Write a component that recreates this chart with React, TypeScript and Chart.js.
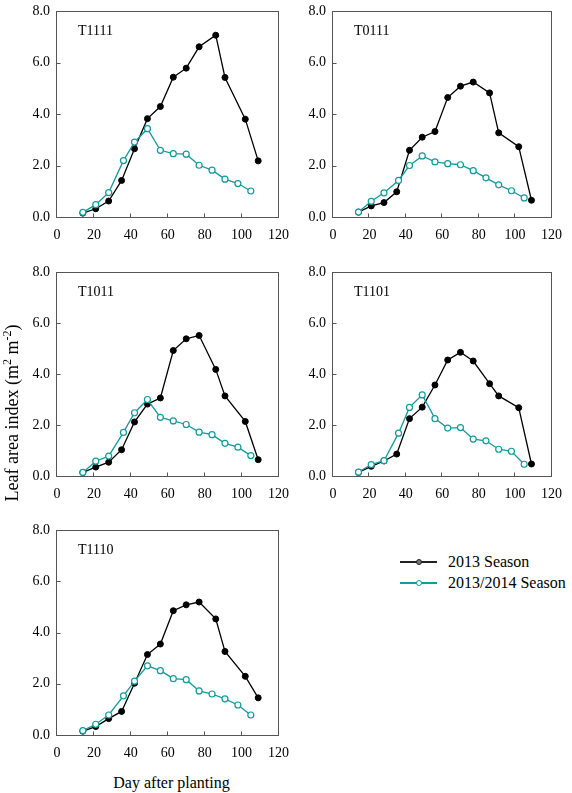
import React, { useEffect, useRef } from 'react';
import { Chart, registerables } from 'chart.js';

Chart.register(...registerables);

// ---------- data ----------
const days2013 = [14, 21, 28, 35, 42, 49, 56, 63, 70, 77, 86, 91, 102, 109];
const days2014 = [14, 21, 28, 36, 42, 49, 56, 63, 70, 77, 84, 91, 98, 105];

const xTicks = [0, 20, 40, 60, 80, 100, 120];
const yTicks = [0, 2, 4, 6, 8];

const panelNames = ['T1111', 'T0111', 'T1011', 'T1101', 'T1110'];

const t1111_2013 = [0.15, 0.32, 0.62, 1.42, 2.65, 3.82, 4.29, 5.43, 5.78, 6.61, 7.06, 5.42, 3.8, 2.18];
const t1111_2014 = [0.18, 0.48, 0.95, 2.19, 2.91, 3.43, 2.59, 2.46, 2.44, 2.01, 1.82, 1.47, 1.3, 1.01];
const t0111_2013 = [0.19, 0.43, 0.56, 0.98, 2.59, 3.1, 3.32, 4.64, 5.08, 5.24, 4.82, 3.27, 2.73, 0.65];
const t0111_2014 = [0.19, 0.61, 0.94, 1.42, 2.0, 2.37, 2.14, 2.07, 2.03, 1.8, 1.52, 1.25, 1.02, 0.74];
const t1011_2013 = [0.14, 0.35, 0.54, 1.03, 2.12, 2.82, 3.06, 4.92, 5.38, 5.51, 4.18, 3.14, 2.14, 0.64];
const t1011_2014 = [0.14, 0.58, 0.78, 1.71, 2.48, 3.0, 2.3, 2.16, 2.02, 1.72, 1.62, 1.28, 1.13, 0.8];
const t1101_2013 = [0.14, 0.38, 0.59, 0.86, 2.25, 2.7, 3.57, 4.55, 4.85, 4.51, 3.62, 3.14, 2.68, 0.47];
const t1101_2014 = [0.15, 0.45, 0.6, 1.68, 2.69, 3.18, 2.25, 1.88, 1.9, 1.45, 1.38, 1.05, 0.97, 0.46];
const t1110_2013 = [0.15, 0.33, 0.64, 0.92, 2.02, 3.14, 3.55, 4.85, 5.08, 5.19, 4.53, 3.26, 2.29, 1.45];
const t1110_2014 = [0.17, 0.42, 0.78, 1.53, 2.1, 2.7, 2.51, 2.2, 2.16, 1.72, 1.6, 1.41, 1.17, 0.78];

const seriesLabels = ['2013 Season', '2013/2014 Season'];

// ---------- style ----------
const FONT = '"Liberation Serif", "Times New Roman", Times, serif';
const TEAL = '#139a9a';
const BOX = '#555555';

type Rect = { left: number; top: number; right: number; bottom: number };

const panels: { name: string; a: number[]; b: number[]; rect: Rect; padRight: number }[] = [
  { name: panelNames[0], a: t1111_2013, b: t1111_2014, rect: { left: 57, top: 7, right: 286, bottom: 217 }, padRight: 14 },
  { name: panelNames[1], a: t0111_2013, b: t0111_2014, rect: { left: 333, top: 7, right: 561, bottom: 217 }, padRight: 12 },
  { name: panelNames[2], a: t1011_2013, b: t1011_2014, rect: { left: 57, top: 268, right: 286, bottom: 476 }, padRight: 14 },
  { name: panelNames[3], a: t1101_2013, b: t1101_2014, rect: { left: 333, top: 268, right: 561, bottom: 476 }, padRight: 12 },
  { name: panelNames[4], a: t1110_2013, b: t1110_2014, rect: { left: 57, top: 526, right: 286, bottom: 735 }, padRight: 14 },
];

const Y_AXIS_W = 57;
const X_AXIS_H = 28;
const PAD_TOP = 10;
const TICK_IN = 4;

function Panel({ name, a, b, rect, padRight }: { name: string; a: number[]; b: number[]; rect: Rect; padRight: number }) {
  const ref = useRef<HTMLCanvasElement | null>(null);
  const cLeft = rect.left - Y_AXIS_W;
  const cTop = rect.top - PAD_TOP;
  const cW = rect.right - cLeft + padRight;
  const cH = rect.bottom - cTop + X_AXIS_H;

  useEffect(() => {
    if (!ref.current) return;
    const boxPlugin = {
      id: 'boxAndLabel',
      beforeDatasetsDraw(chart: any) {
        const { ctx, chartArea, scales } = chart;
        const { left, top, right, bottom } = chartArea;
        const L = Math.round(left) - 0.5;
        const T = Math.round(top) + 0.5;
        const R = Math.round(right) - 0.5;
        const B = Math.round(bottom) + 0.5;
        ctx.save();
        ctx.strokeStyle = BOX;
        ctx.lineWidth = 1;
        ctx.strokeRect(L, T, R - L, B - T);
        ctx.beginPath();
        xTicks.forEach((v) => {
          const px = Math.round(scales.x.getPixelForValue(v)) - 0.5;
          ctx.moveTo(px, B);
          ctx.lineTo(px, B - TICK_IN);
        });
        yTicks.forEach((v) => {
          const py = Math.round(scales.y.getPixelForValue(v)) + 0.5;
          ctx.moveTo(L, py);
          ctx.lineTo(L + TICK_IN, py);
        });
        ctx.stroke();
        ctx.fillStyle = '#000';
        ctx.font = `14px ${FONT}`;
        ctx.textBaseline = 'middle';
        ctx.textAlign = 'left';
        ctx.fillText(name, left + 21, top + 20);
        ctx.restore();
      },
    };
    const chart = new Chart(ref.current, {
      type: 'line',
      data: {
        datasets: [
          {
            label: seriesLabels[1],
            data: days2014.map((x, i) => ({ x, y: b[i] })),
            borderColor: TEAL,
            backgroundColor: '#ffffff',
            pointBackgroundColor: '#ffffff',
            pointBorderColor: TEAL,
            pointBorderWidth: 1.2,
            pointRadius: 3,
            borderWidth: 1.3,
            tension: 0,
            order: 0,
          },
          {
            label: seriesLabels[0],
            data: days2013.map((x, i) => ({ x, y: a[i] })),
            borderColor: '#000000',
            backgroundColor: '#000000',
            pointBackgroundColor: '#000000',
            pointBorderColor: '#000000',
            pointBorderWidth: 1,
            pointRadius: 3,
            borderWidth: 1.3,
            tension: 0,
            order: 1,
          },
        ],
      },
      options: {
        animation: false,
        responsive: false,
        devicePixelRatio: 1,
        layout: { padding: { left: 0, top: PAD_TOP, right: padRight, bottom: 0 } },
        plugins: { legend: { display: false }, tooltip: { enabled: false } },
        scales: {
          x: {
            type: 'linear',
            min: 0,
            max: 120,
            afterBuildTicks: (s: any) => {
              s.ticks = xTicks.map((v) => ({ value: v }));
            },
            afterFit: (s: any) => {
              s.height = X_AXIS_H;
            },
            grid: { display: false, drawTicks: false },
            border: { display: false },
            ticks: {
              font: { family: FONT, size: 14, lineHeight: 1 },
              color: '#000',
              padding: 11,
              maxRotation: 0,
              autoSkip: false,
            },
          },
          y: {
            type: 'linear',
            min: 0,
            max: 8,
            afterBuildTicks: (s: any) => {
              s.ticks = yTicks.map((v) => ({ value: v }));
            },
            afterFit: (s: any) => {
              s.width = Y_AXIS_W;
            },
            grid: { display: false, drawTicks: false },
            border: { display: false },
            ticks: {
              font: { family: FONT, size: 14, lineHeight: 1 },
              color: '#000',
              padding: 7,
              autoSkip: false,
              callback: (v: any) => Number(v).toFixed(1),
            },
          },
        },
      },
      plugins: [boxPlugin],
    } as any);
    return () => chart.destroy();
  }, [name, a, b, padRight]);

  return (
    <canvas
      ref={ref}
      width={cW}
      height={cH}
      style={{ position: 'absolute', left: cLeft, top: cTop, width: cW, height: cH }}
    />
  );
}

function LegendRow({ y, color, fill, text }: { y: number; color: string; fill: string; text: string }) {
  return (
    <>
      <div style={{ position: 'absolute', left: 400, top: y - 0.65, width: 37, height: 1.3, background: color }} />
      <div
        style={{
          position: 'absolute',
          left: 416,
          top: y - 3,
          width: 4,
          height: 4,
          borderRadius: '50%',
          border: `1px solid ${color}`,
          background: fill,
        }}
      />
      <div
        style={{
          position: 'absolute',
          left: 448,
          top: y - 9,
          height: 18,
          lineHeight: '18px',
          fontFamily: FONT,
          fontSize: 16,
          color: '#000',
          whiteSpace: 'nowrap',
        }}
      >
        {text}
      </div>
    </>
  );
}

export default function App() {
  return (
    <div
      style={{
        position: 'fixed',
        left: 0,
        top: 0,
        width: 572,
        height: 793,
        background: '#ffffff',
        overflow: 'hidden',
      }}
    >
      {panels.map((p) => (
        <Panel key={p.name} name={p.name} a={p.a} b={p.b} rect={p.rect} padRight={p.padRight} />
      ))}
      <LegendRow y={562} color="#222" fill="#777" text={seriesLabels[0]} />
      <LegendRow y={583} color={TEAL} fill="#ffffff" text={seriesLabels[1]} />
      <div
        style={{
          position: 'absolute',
          left: 57,
          width: 229,
          top: 774,
          height: 18,
          lineHeight: '18px',
          textAlign: 'center',
          fontFamily: FONT,
          fontSize: 16,
          color: '#000',
          whiteSpace: 'nowrap',
        }}
      >
        Day after planting
      </div>
      <div
        style={{
          position: 'absolute',
          left: 12 - 150,
          top: 413 - 11,
          width: 300,
          height: 22,
          lineHeight: '22px',
          textAlign: 'center',
          fontFamily: FONT,
          fontSize: 18,
          color: '#000',
          whiteSpace: 'nowrap',
          transform: 'rotate(-90deg)',
          transformOrigin: '50% 50%',
        }}
      >
        Leaf area index (m<sup style={{ fontSize: 12, lineHeight: 0 }}>2</sup> m<sup style={{ fontSize: 12, lineHeight: 0 }}>-2</sup>)
      </div>
    </div>
  );
}
